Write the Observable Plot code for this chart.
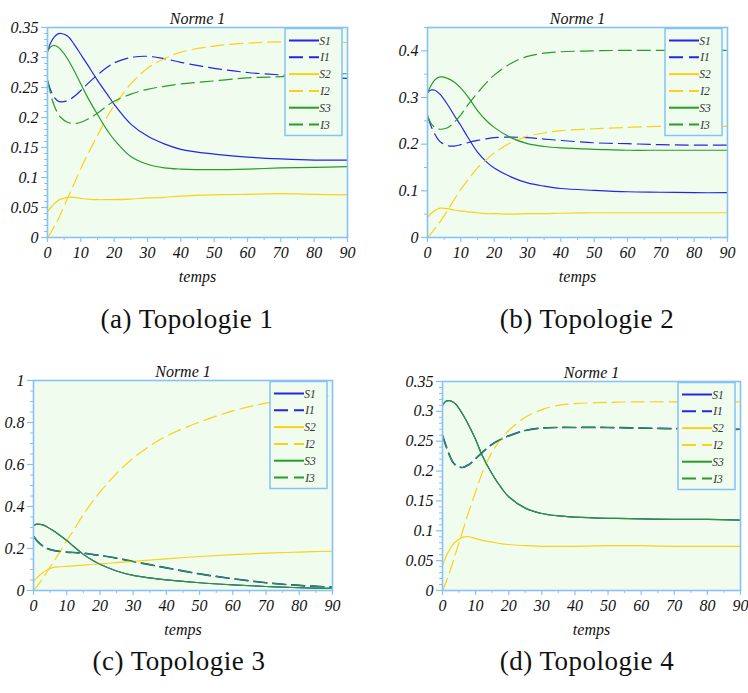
<!DOCTYPE html>
<html><head><meta charset="utf-8">
<script src="https://cdn.jsdelivr.net/npm/d3@7"></script>
<script src="https://cdn.jsdelivr.net/npm/@observablehq/plot@0.6"></script>
<style>
body{margin:0;background:#fff;}
.capc{font-family:"Liberation Serif",serif;}
</style></head><body>
<script>
// time grid (temps)
const T = [0,1,2,3,4,6,8,10,12,15,18,20,25,30,35,40,50,60,70,80,90];
const seriesNames = ["S1","I1","S2","I2","S3","I3"];
const xTicks = [0,10,20,30,40,50,60,70,80,90];

// (a) Topologie 1
const a_S1 = [0.310,0.325,0.334,0.339,0.340,0.336,0.322,0.305,0.288,0.262,0.238,0.222,0.189,0.169,0.156,0.147,0.139,0.134,0.131,0.129,0.129];
const a_I1 = [0.262,0.245,0.234,0.228,0.226,0.228,0.235,0.245,0.256,0.271,0.284,0.291,0.300,0.302,0.298,0.292,0.282,0.275,0.271,0.268,0.265];
const a_S2 = [0.043,0.050,0.056,0.061,0.064,0.067,0.067,0.065,0.064,0.063,0.063,0.063,0.064,0.066,0.067,0.069,0.071,0.072,0.073,0.072,0.071];
const a_I2 = [0.000,0.008,0.018,0.028,0.040,0.065,0.090,0.115,0.138,0.170,0.202,0.220,0.256,0.282,0.298,0.309,0.319,0.324,0.326,0.326,0.325];
const a_S3 = [0.310,0.318,0.320,0.318,0.313,0.298,0.278,0.256,0.234,0.205,0.178,0.163,0.135,0.122,0.116,0.114,0.113,0.114,0.116,0.117,0.118];
const a_I3 = [0.262,0.238,0.220,0.208,0.200,0.192,0.190,0.192,0.197,0.207,0.220,0.227,0.239,0.247,0.252,0.256,0.261,0.266,0.268,0.271,0.273];
const a_yTicks = [0,0.05,0.1,0.15,0.2,0.25,0.3,0.35];

// (b) Topologie 2
const b_S1 = [0.310,0.316,0.316,0.312,0.305,0.285,0.262,0.240,0.216,0.183,0.160,0.149,0.130,0.117,0.110,0.105,0.101,0.098,0.097,0.096,0.096];
const b_I1 = [0.260,0.240,0.224,0.212,0.204,0.197,0.196,0.199,0.203,0.208,0.212,0.214,0.215,0.214,0.211,0.208,0.203,0.201,0.199,0.198,0.198];
const b_S2 = [0.043,0.051,0.057,0.061,0.063,0.062,0.059,0.057,0.055,0.053,0.051,0.051,0.050,0.051,0.051,0.052,0.053,0.053,0.053,0.053,0.053];
const b_I2 = [0.000,0.008,0.017,0.026,0.036,0.058,0.081,0.103,0.122,0.149,0.169,0.181,0.203,0.217,0.224,0.229,0.233,0.236,0.238,0.238,0.238];
const b_S3 = [0.310,0.325,0.336,0.342,0.344,0.341,0.333,0.320,0.303,0.272,0.248,0.236,0.214,0.201,0.195,0.192,0.189,0.187,0.187,0.187,0.187];
const b_I3 = [0.262,0.245,0.237,0.233,0.232,0.235,0.247,0.263,0.283,0.310,0.334,0.348,0.373,0.388,0.395,0.398,0.400,0.401,0.401,0.401,0.401];
const b_yTicks = [0,0.1,0.2,0.3,0.4];

// (c) Topologie 3  (S1 = S3 and I1 = I3: the blue curves lie under the green ones)
const c_S3 = [0.310,0.316,0.315,0.311,0.304,0.284,0.262,0.238,0.211,0.172,0.142,0.125,0.093,0.072,0.060,0.051,0.037,0.027,0.019,0.013,0.010];
const c_I3 = [0.258,0.238,0.222,0.210,0.201,0.191,0.186,0.183,0.181,0.178,0.171,0.167,0.154,0.138,0.123,0.108,0.079,0.056,0.037,0.024,0.016];
const c_S1 = c_S3.slice();
const c_I1 = c_I3.slice();
const c_S2 = [0.043,0.060,0.075,0.088,0.098,0.110,0.113,0.115,0.117,0.121,0.125,0.127,0.133,0.139,0.145,0.151,0.162,0.171,0.178,0.183,0.187];
const c_I2 = [0.000,0.018,0.040,0.063,0.087,0.135,0.185,0.237,0.285,0.362,0.428,0.468,0.558,0.630,0.688,0.735,0.802,0.855,0.892,0.915,0.930];
const c_yTicks = [0,0.2,0.4,0.6,0.8,1];

// (d) Topologie 4  (S1 = S3 and I1 = I3)
const d_S3 = [0.310,0.317,0.318,0.316,0.312,0.296,0.276,0.253,0.226,0.195,0.170,0.157,0.138,0.129,0.125,0.123,0.121,0.120,0.119,0.119,0.118];
const d_I3 = [0.260,0.243,0.228,0.216,0.210,0.206,0.211,0.221,0.231,0.245,0.254,0.259,0.268,0.272,0.273,0.273,0.273,0.272,0.271,0.270,0.270];
const d_S1 = d_S3.slice();
const d_I1 = d_I3.slice();
const d_S2 = [0.042,0.056,0.067,0.076,0.082,0.089,0.090,0.087,0.084,0.081,0.078,0.077,0.075,0.074,0.074,0.074,0.075,0.075,0.074,0.074,0.074];
const d_I2 = [0.000,0.013,0.028,0.045,0.063,0.098,0.133,0.165,0.197,0.232,0.256,0.268,0.290,0.303,0.310,0.313,0.315,0.316,0.316,0.316,0.316];
const d_yTicks = [0,0.05,0.1,0.15,0.2,0.25,0.3,0.35];

const captions = ["(a) Topologie 1","(b) Topologie 2","(c) Topologie 3","(d) Topologie 4"];
const titleText = "Norme 1";
const xLabel = "temps";

// styles
const BG = "#effcee";
const AX = "#86c1f7";
const COL = {S1:"#2525e8", I1:"#2525e8", S2:"#f8d218", I2:"#f8d218", S3:"#2a9a2a", I3:"#2a9a2a"};
const DASH = {S1:null, I1:"13,6", S2:null, I2:"13,6", S3:null, I3:"13,6"};

function rowsOf(vals){
  return seriesNames.flatMap(s => T.map((t,i) => ({t, v: vals[s][i], s})));
}

function legendMark(index, scales, values, dims){
  const g = d3.create("svg:g");
  const w = 57, h = 107;
  const x0 = dims.width - dims.marginRight - 5 - w;
  const y0 = dims.marginTop + 1.5;
  g.append("rect").attr("x",x0).attr("y",y0).attr("width",w).attr("height",h)
    .attr("fill",BG).attr("stroke",AX).attr("stroke-width",1.5);
  seriesNames.forEach((s,i)=>{
    const y = y0 + 12 + i*16.8;
    g.append("line").attr("x1",x0+4).attr("x2",x0+34).attr("y1",y).attr("y2",y)
      .attr("stroke",COL[s]).attr("stroke-width",2)
      .attr("stroke-dasharray", DASH[s] ? "14,6" : null);
    g.append("text").attr("x",x0+40).attr("y",y).attr("dy","0.35em")
      .attr("font-style","italic").attr("font-size",11.5)
      .attr("fill","#333").text(s);
  });
  return g.node();
}

const fmt = d => String(+(+d).toFixed(2));

function panel(cfg){
  const rows = rowsOf(cfg.vals);
  const [y0,y1] = cfg.yDomain;
  const minor = d3.range(0, Math.round((y1 - y0)/cfg.yMinorStep) + 1)
    .map(k => +(y0 + k*cfg.yMinorStep).toFixed(4))
    .filter(v => v <= y1 + 1e-9 && !cfg.yTicks.some(t => Math.abs(t - v) < 1e-9));
  const xMinor = xTicks.slice(0,-1).map(v => v + 5);
  const lines = seriesNames.map(s => Plot.line(rows.filter(r => r.s === s), {
    x:"t", y:"v", stroke: COL[s],
    strokeWidth: (cfg.overlap && s === "I1") ? 1.7 : 1.2,
    strokeDasharray: DASH[s] || undefined,
    curve:"catmull-rom", clip:true
  }));
  const svg = Plot.plot({
    width: cfg.width, height: cfg.height,
    marginLeft: cfg.mL, marginRight: cfg.mR, marginTop: cfg.mT, marginBottom: cfg.mB,
    style: {fontFamily:"Liberation Serif", fontSize:"16px", fontStyle:"italic", color:"#111", background:"transparent", position:"absolute", left: cfg.left + "px", top: cfg.top + "px"},
    x: {domain:[0,90]},
    y: {domain: cfg.yDomain},
    marks: [
      Plot.frame({fill: BG}),
      Plot.axisY(minor, {tickSize:3, text:null, label:null, stroke: AX, strokeWidth:1}),
      Plot.axisY(cfg.yTicks, {tickSize:6, tickPadding:3, tickFormat: fmt, label:null, stroke: AX, strokeWidth:1.2, fill:"#111"}),
      Plot.axisX(xMinor, {tickSize:3, text:null, label:null, stroke: AX}),
      Plot.axisX(xTicks, {tickSize:5, tickPadding:4, label: xLabel, labelAnchor:"center", labelArrow:"none", labelOffset:44, stroke: AX, strokeWidth:1.2, fill:"#111"}),
      ...lines,
      Plot.frame({stroke: AX, strokeWidth:1.6}),
      legendMark,
      Plot.text([titleText], {frameAnchor:"top", dy:-15, fontSize:16, fill:"#111"})
    ]
  });
  return svg;
}

document.body.appendChild(panel({left:0, top:0, width:360, height:290, mL:47, mR:13, mT:27, mB:53,
  yDomain:[0,0.35], yTicks:a_yTicks, yMinorStep:0.01,
  vals:{S1:a_S1,I1:a_I1,S2:a_S2,I2:a_I2,S3:a_S3,I3:a_I3}}));
document.body.appendChild(panel({left:380, top:0, width:360, height:290, mL:47, mR:13, mT:27, mB:53,
  yDomain:[0,0.45], yTicks:b_yTicks, yMinorStep:0.05,
  vals:{S1:b_S1,I1:b_I1,S2:b_S2,I2:b_I2,S3:b_S3,I3:b_I3}}));
document.body.appendChild(panel({left:0, top:360, width:350, height:290, mL:33, mR:18, mT:20, mB:60,
  yDomain:[0,1], yTicks:c_yTicks, yMinorStep:0.05, overlap:true,
  vals:{S1:c_S1,I1:c_I1,S2:c_S2,I2:c_I2,S3:c_S3,I3:c_I3}}));
document.body.appendChild(panel({left:380, top:360, width:368, height:290, mL:62, mR:8, mT:21, mB:60,
  yDomain:[0,0.35], yTicks:d_yTicks, yMinorStep:0.01, overlap:true,
  vals:{S1:d_S1,I1:d_I1,S2:d_S2,I2:d_I2,S3:d_S3,I3:d_I3}}));

const capPos = [[187,321],[587,321],[179,663],[587,663]];
captions.forEach((c,i)=>{
  const d = document.createElement("div");
  d.className = "capc";
  d.style.position = "absolute";
  d.style.fontSize = "27px";
  d.style.letterSpacing = "0.5px";
  d.style.color = "#111";
  d.style.whiteSpace = "nowrap";
  d.style.left = (capPos[i][0] - 100) + "px";
  d.style.width = "200px";
  d.style.textAlign = "center";
  d.style.top = (capPos[i][1] - 17) + "px";
  d.textContent = c;
  document.body.appendChild(d);
});
</script></body></html>
